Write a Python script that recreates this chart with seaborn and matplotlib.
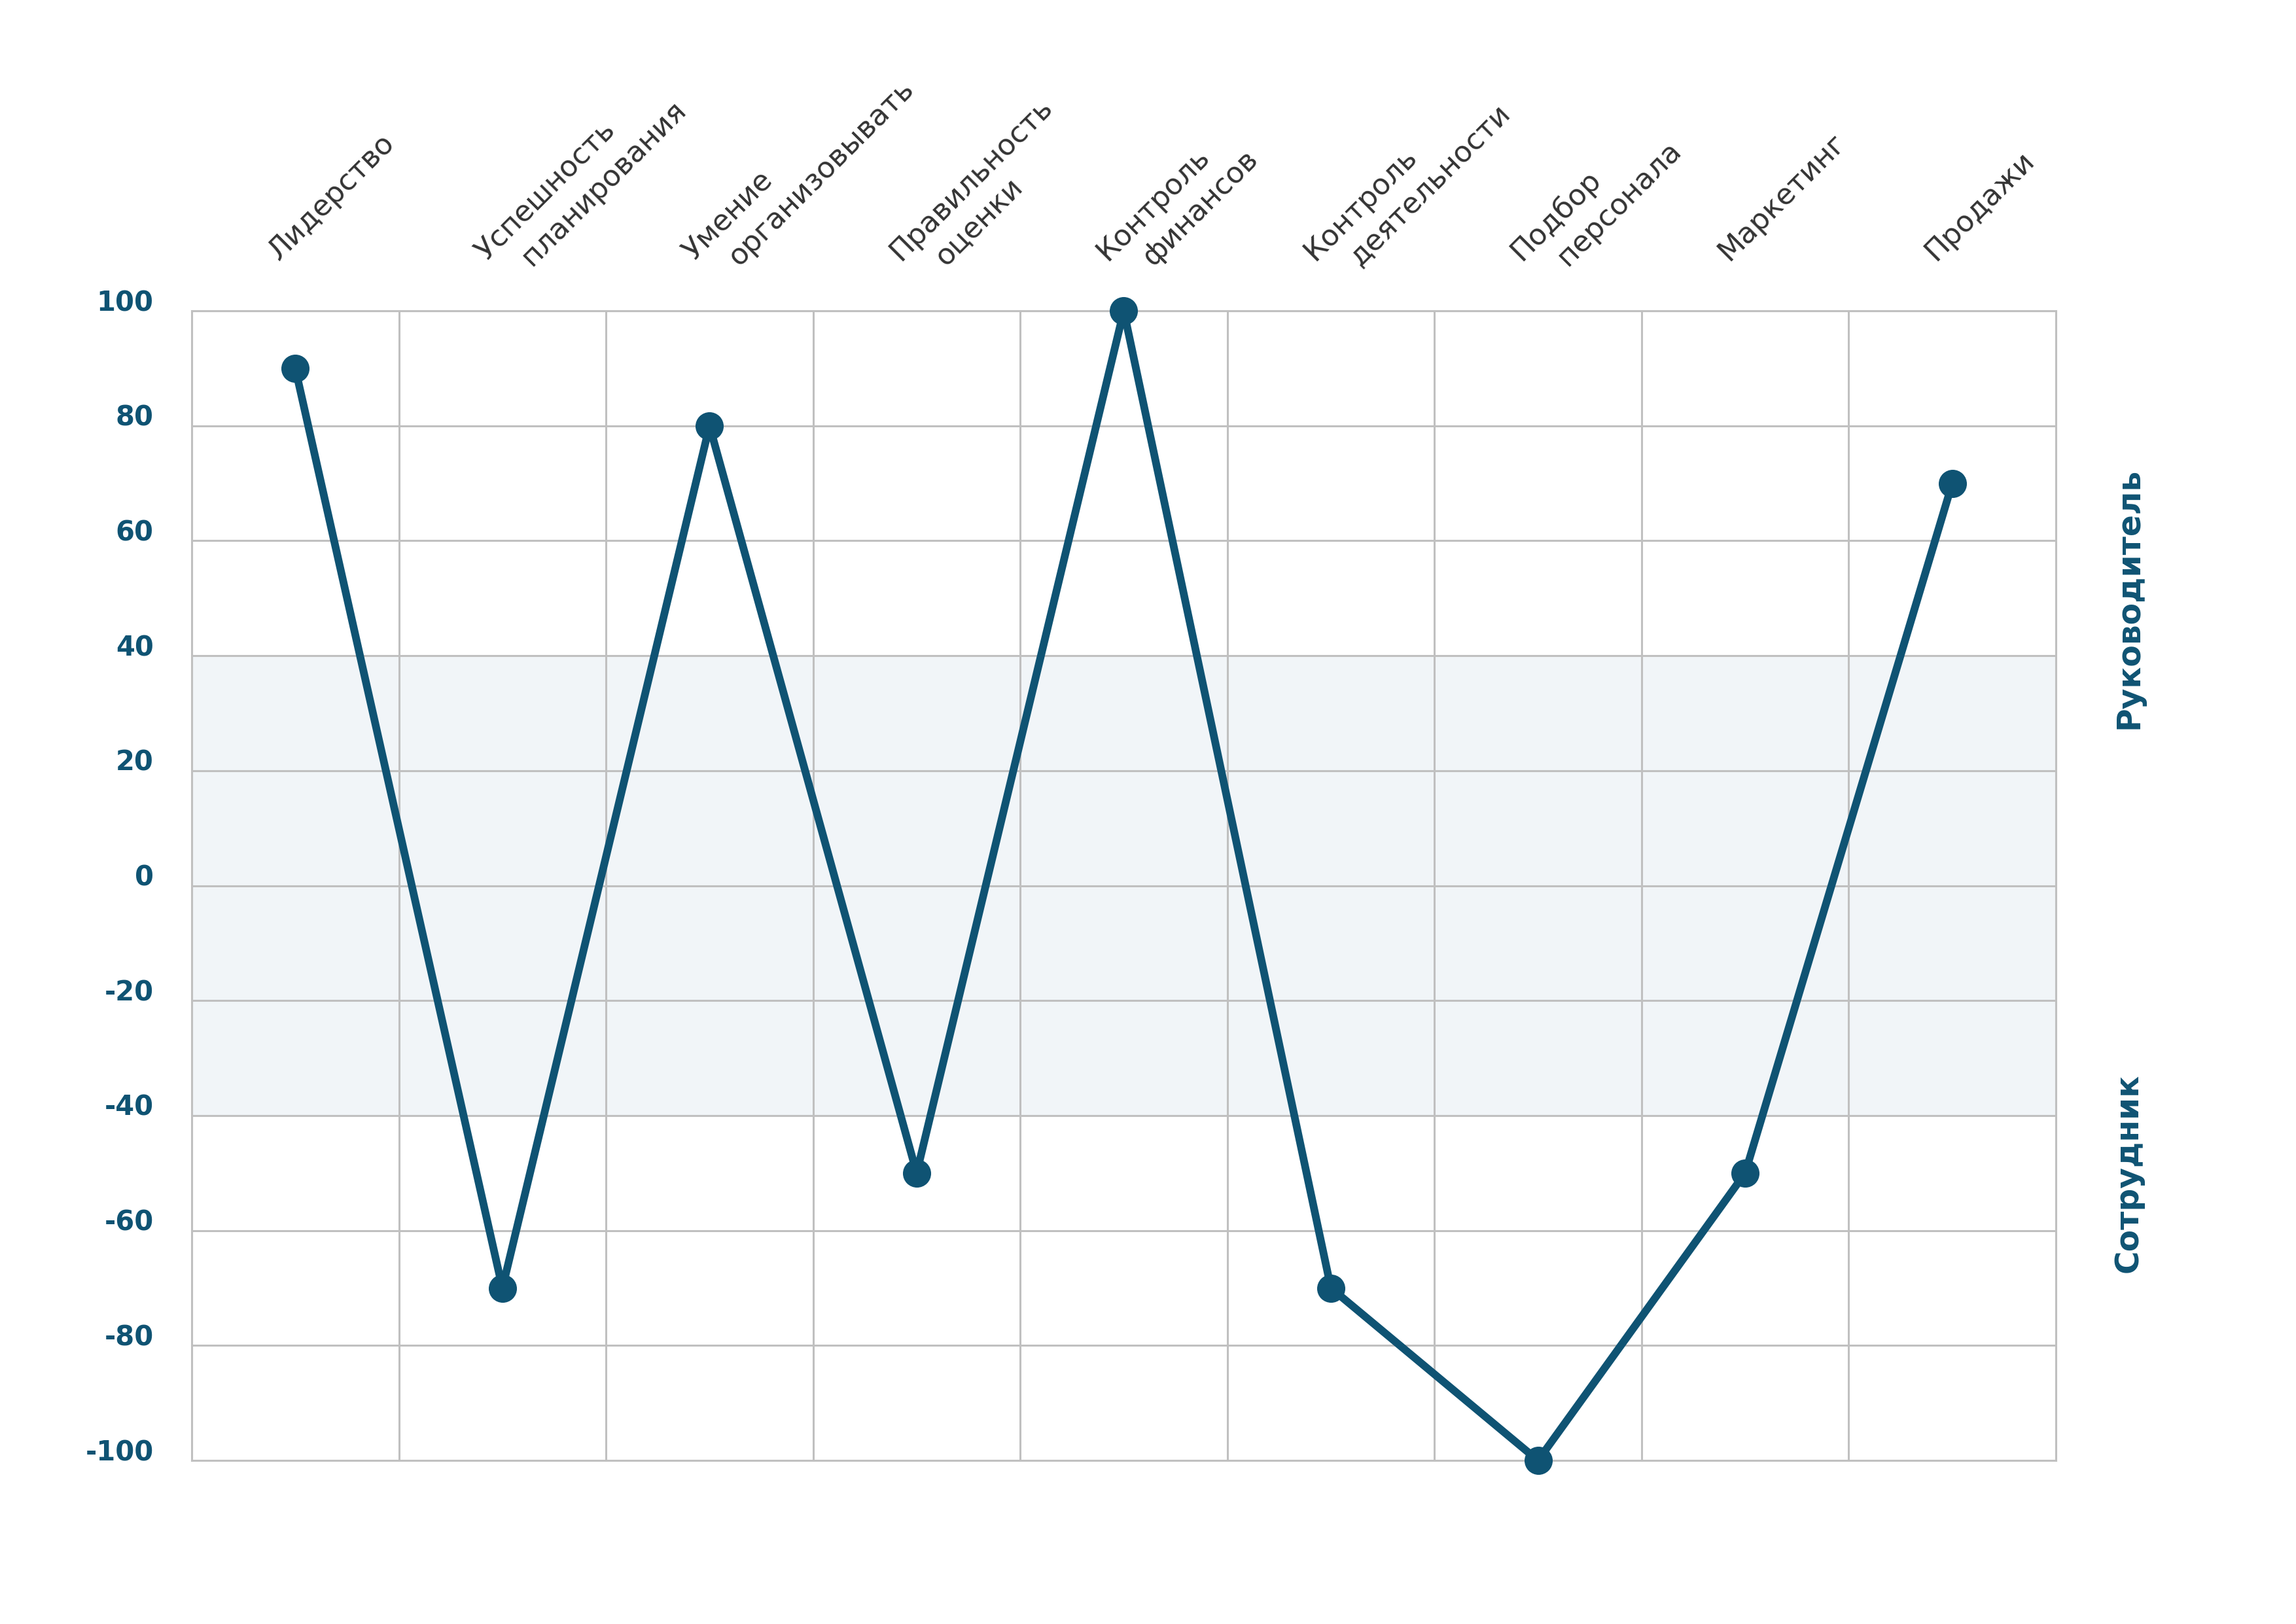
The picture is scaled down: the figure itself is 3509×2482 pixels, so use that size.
import numpy as np
import pandas as pd
import matplotlib
matplotlib.use("Agg")
import matplotlib.pyplot as plt
import seaborn as sns

# ---- data ----
categories_line1 = ["Лидерство", "Успешность", "Умение", "Правильность", "Контроль",
                    "Контроль", "Подбор", "Маркетинг", "Продажи"]
categories_line2 = ["", "планирования", "организовывать", "оценки", "финансов",
                    "деятельности", "персонала", "", ""]
values = [90, -70, 80, -50, 100, -70, -100, -50, 70]
y_ticks = [-100, -80, -60, -40, -20, 0, 20, 40, 60, 80, 100]
band = (-40, 40)
side_labels = ["Руководитель", "Сотрудник"]
side_label_y = [50, -50]

LINE_C = "#0f5373"
TEXT_C = "#333333"
GRID_C = "#c0c0c0"
BAND_C = "#f1f5f8"

sns.set_theme(style="white")
plt.rcParams["font.family"] = ["DejaVu Sans"]

fig = plt.figure(figsize=(35.09, 24.82), dpi=100)
ax = fig.add_axes([0.0835, 0.1007, 0.8119, 0.7079])

n = len(values)
df = pd.DataFrame({"pos": np.arange(n), "value": values})

ax.axhspan(band[0], band[1], color=BAND_C, zorder=0.2, lw=0)

sns.lineplot(data=df, x="pos", y="value", ax=ax, color=LINE_C, lw=8.5,
             marker="o", markersize=31, markeredgewidth=0, clip_on=False, zorder=5)

ax.set_xlim(-0.5, n - 0.5)
ax.set_ylim(-100, 100)
ax.set_xticks(np.arange(-0.5, n, 1))
ax.set_xticklabels([])
ax.set_yticks(y_ticks)
ax.set_yticklabels([str(v) for v in y_ticks])
ax.set_xlabel("")
ax.set_ylabel("")
ax.set_axisbelow(True)
ax.grid(True, color=GRID_C, lw=2.2)
ax.tick_params(axis="both", length=0)
ax.tick_params(axis="y", pad=42, labelsize=30, labelcolor=LINE_C)
for lbl in ax.get_yticklabels():
    lbl.set_fontweight("bold")
    lbl.set_verticalalignment("baseline")
for s in ax.spines.values():
    s.set_visible(True)
    s.set_color(GRID_C)
    s.set_linewidth(2.2)

# category labels at top
for i in range(n):
    ax.annotate(categories_line1[i], xy=(i, 100), xycoords="data",
                xytext=(-25, 75), textcoords="offset pixels",
                rotation=45, rotation_mode="anchor", ha="left", va="baseline",
                fontsize=32, color=TEXT_C, annotation_clip=False)
    if categories_line2[i]:
        ax.annotate(categories_line2[i], xy=(i, 100), xycoords="data",
                    xytext=(45, 67), textcoords="offset pixels",
                    rotation=45, rotation_mode="anchor", ha="left", va="baseline",
                    fontsize=32, color=TEXT_C, annotation_clip=False)

# side labels
trans = matplotlib.transforms.blended_transform_factory(ax.transAxes, ax.transData)
for lab, yv in zip(side_labels, side_label_y):
    ax.text(1.039, yv, lab, transform=trans, rotation=90, ha="center", va="center",
            fontsize=35, fontweight="bold", color=LINE_C)

fig.savefig("out.png", dpi=100, facecolor="white")
